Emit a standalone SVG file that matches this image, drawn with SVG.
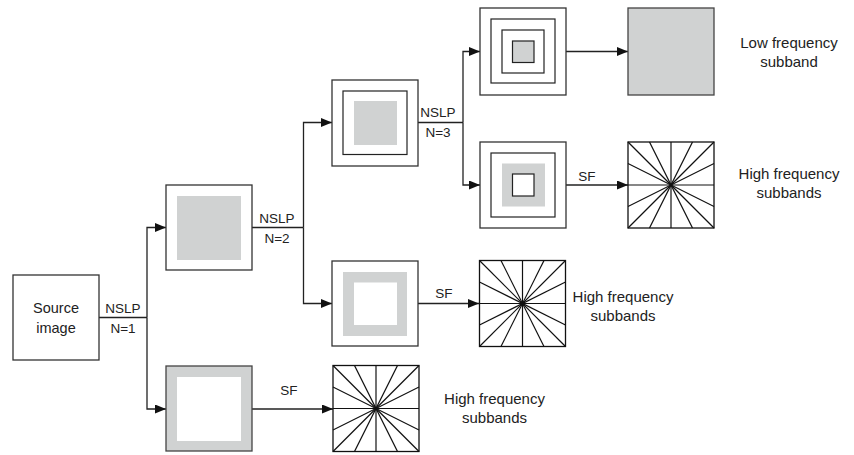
<svg xmlns="http://www.w3.org/2000/svg" xmlns:xlink="http://www.w3.org/1999/xlink" width="854" height="455" viewBox="0 0 854 455">
<style>
  .box{fill:#fff;stroke:#333;stroke-width:1.3}
  .gbox{fill:#d0d2d2;stroke:#444;stroke-width:1.3}
  .ln{fill:none;stroke:#222;stroke-width:1.2}
  .g{fill:#d0d2d2;stroke:none}
  .w{fill:#fff;stroke:none}
  .wl{fill:#fff;stroke:#222;stroke-width:1.2}
  .gl{fill:#d0d2d2;stroke:#222;stroke-width:1.2}
  .conn{fill:none;stroke:#222;stroke-width:1.3}
  .arr{marker-end:url(#ah)}
  text{font-family:"Liberation Sans",Arial,sans-serif;fill:#222;text-anchor:middle}
  .lbl{font-size:13.5px}
  .big{font-size:15px}
  .src{font-size:14.5px}
  .fan line{stroke:#111;stroke-width:1.2}
</style>
<defs>
  <marker id="ah" markerWidth="11" markerHeight="9" refX="11" refY="4.5" orient="auto" markerUnits="userSpaceOnUse">
    <path d="M0,0 L11,4.5 L0,9 z" fill="#111"/>
  </marker>
  <g id="fan" class="fan">
    <rect x="0" y="0" width="86" height="86" fill="#fff" stroke="#111" stroke-width="1.3"/>
    <line x1="0" y1="0" x2="86" y2="86"/>
    <line x1="86" y1="0" x2="0" y2="86"/>
    <line x1="43" y1="0" x2="43" y2="86"/>
    <line x1="0" y1="43" x2="86" y2="43"/>
    <line x1="21.5" y1="0" x2="64.5" y2="86"/>
    <line x1="64.5" y1="0" x2="21.5" y2="86"/>
    <line x1="0" y1="21.5" x2="86" y2="64.5"/>
    <line x1="0" y1="64.5" x2="86" y2="21.5"/>
  </g>
</defs>

<g id="connectors">
  <path class="conn" d="M99,317.5 H147"/>
  <path class="conn arr" d="M147,317.5 V227.5 H166"/>
  <path class="conn arr" d="M147,317.5 V409 H166"/>
  <path class="conn arr" d="M252,409 H333"/>
  <path class="conn" d="M252,227.5 H303.5"/>
  <path class="conn arr" d="M303.5,227.5 V122.5 H332"/>
  <path class="conn arr" d="M303.5,227.5 V303.5 H332"/>
  <path class="conn arr" d="M418,303.5 H479"/>
  <path class="conn" d="M418,122.5 H463"/>
  <path class="conn arr" d="M463,122.5 V51.5 H480"/>
  <path class="conn arr" d="M463,122.5 V185 H480"/>
  <path class="conn arr" d="M566,51.5 H628"/>
  <path class="conn arr" d="M566,185 H628"/>
  <text class="lbl" x="123" y="313">NSLP</text>
  <text class="lbl" x="123" y="333">N=1</text>
  <text class="lbl" x="277" y="223">NSLP</text>
  <text class="lbl" x="277" y="243">N=2</text>
  <text class="lbl" x="438" y="117">NSLP</text>
  <text class="lbl" x="438" y="137">N=3</text>
  <text class="lbl" x="289" y="395">SF</text>
  <text class="lbl" x="444" y="297.5">SF</text>
  <text class="lbl" x="587" y="180.5">SF</text>
</g>

<g id="source">
  <rect class="box" x="13" y="275" width="86" height="85"/>
  <text class="src" x="56" y="313">Source</text>
  <text class="src" x="56" y="333">image</text>
</g>

<g id="n1-high">
  <rect class="gbox" x="166" y="366" width="86" height="85"/>
  <rect class="w" x="177" y="377" width="64" height="64"/>
</g>

<g id="n2-low">
  <rect class="box" x="166" y="185" width="86" height="85"/>
  <rect class="g" x="177" y="196" width="64" height="64"/>
</g>

<g id="fan-bottom">
  <use xlink:href="#fan" href="#fan" x="333" y="365.5"/>
</g>

<g id="n3-low">
  <rect class="box" x="332" y="80" width="86" height="86"/>
  <rect class="wl" x="343" y="91" width="64" height="63.5"/>
  <rect class="g" x="354" y="101" width="43" height="44"/>
</g>

<g id="n2-high">
  <rect class="box" x="332" y="261" width="86" height="85"/>
  <rect class="g" x="343" y="272" width="64" height="64"/>
  <rect class="w" x="354" y="282.5" width="43" height="42.5"/>
</g>

<g id="fan-middle">
  <use xlink:href="#fan" href="#fan" x="479.5" y="260.5"/>
</g>

<g id="n4-low">
  <rect class="box" x="480" y="8" width="86" height="87"/>
  <rect class="wl" x="491" y="19" width="64" height="64"/>
  <rect class="wl" x="502" y="30" width="42" height="43"/>
  <rect class="gl" x="512.5" y="41" width="21.5" height="21.5"/>
</g>

<g id="low-band">
  <rect class="gbox" x="628" y="8" width="86" height="87"/>
</g>

<g id="n3-high">
  <rect class="box" x="480" y="142" width="86" height="86"/>
  <rect class="wl" x="491" y="153" width="64" height="64"/>
  <rect class="g" x="502" y="163.5" width="43" height="43"/>
  <rect class="wl" x="512.5" y="174" width="21.5" height="22"/>
</g>

<g id="fan-top">
  <use xlink:href="#fan" href="#fan" x="628" y="142"/>
</g>

<g id="labels">
  <text class="big" x="789" y="48">Low frequency</text>
  <text class="big" x="789" y="67">subband</text>
  <text class="big" x="789" y="179">High frequency</text>
  <text class="big" x="789" y="198">subbands</text>
  <text class="big" x="623" y="302">High frequency</text>
  <text class="big" x="623" y="321">subbands</text>
  <text class="big" x="494.5" y="404">High frequency</text>
  <text class="big" x="494.5" y="423">subbands</text>
</g>
</svg>
